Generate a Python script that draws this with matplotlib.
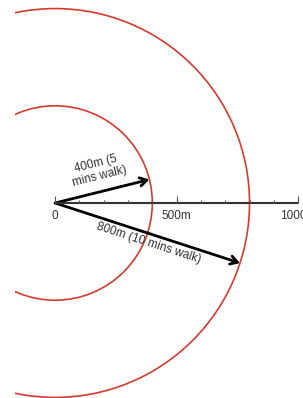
import matplotlib
matplotlib.use("Agg")
import matplotlib.pyplot as plt
from matplotlib.patches import Circle, FancyArrowPatch
import numpy as np

# walking radii (m) and labels
radii = [400, 800]
arrow_angles = [14, -18]
arrow_labels = ["400m (5\nmins walk)", "800m (10 mins walk)"]
scale_ticks = [0, 500, 1000]
scale_labels = ["0", "500m", "1000m"]
minor_ticks = list(range(0, 1001, 100))

plt.rcParams['font.family'] = ['Liberation Sans', 'DejaVu Sans']

fig = plt.figure(figsize=(3.03, 3.98), dpi=100)
ax = fig.add_axes([15 / 303, 0, 288 / 303, 1])
ax.set_xlim(-165, 1020)
ax.set_ylim(-802, 835)
ax.set_aspect('equal')
ax.axis('off')

red = "#d63a2f"
for r in radii:
    ax.add_patch(Circle((0, 0), r, fill=False, ec=red, lw=1.2))

# scale bar
ax.plot([0, 1000], [0, 0], color="#333333", lw=1.5, solid_capstyle='butt')
ax.vlines(minor_ticks, 0, 14, color="#555555", lw=0.8)
ax.vlines(scale_ticks, 0, 30, color="#555555", lw=0.8)
for t, lab in zip(scale_ticks, scale_labels):
    ax.text(t, -28, lab, ha='center', va='top', fontsize=8.5, color="#333333", clip_on=False)

# arrows
for r, a in zip(radii, arrow_angles):
    th = np.deg2rad(a)
    ax.add_patch(FancyArrowPatch((0, 0), (r * np.cos(th), r * np.sin(th)),
                                 arrowstyle='->,head_length=5,head_width=3',
                                 color='black', lw=2, shrinkA=0, shrinkB=0,
                                 mutation_scale=1))

ax.text(175, 135, arrow_labels[0], rotation=14, ha='center', va='center',
        fontsize=8.5, color="#333333", linespacing=1.1, rotation_mode='anchor')
ax.text(385, -165, arrow_labels[1], rotation=-18, ha='center', va='center',
        fontsize=8.5, color="#333333", rotation_mode='anchor')

fig.savefig("out.png", dpi=100)
